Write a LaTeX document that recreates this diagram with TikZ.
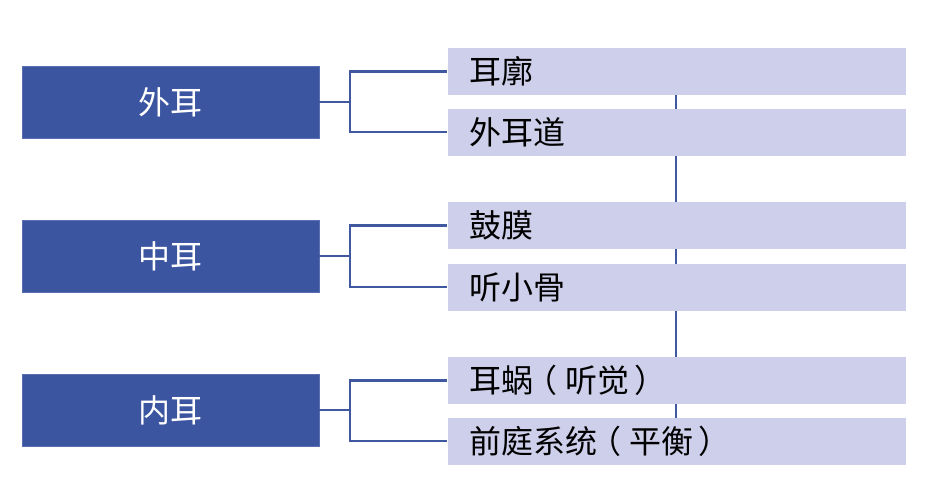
\documentclass[tikz,border=0pt]{standalone}
\usepackage{fontspec}
\newfontfamily\cjk{Noto Sans CJK SC}
\newcommand{\lpar}{\kern-0.25em（\kern0.25em}
\newcommand{\rpar}{\kern0.15em）}
\definecolor{earblue}{RGB}{59,85,160}
\definecolor{earlight}{RGB}{206,207,234}
\definecolor{earline}{RGB}{64,88,160}
\tikzset{every picture/.style={line width=0.75pt}}
\tikzset{
  partbox/.style={fill=earblue, draw={rgb, 255:red, 90; green, 110; blue, 178 }, line width=0.6pt, minimum width=222.75pt, minimum height=54pt, inner sep=0pt, text=white, font=\cjk\fontsize{24}{28}\selectfont},
  itembox/.style={fill=earlight, draw=none, anchor=west, minimum height=35.25pt, text width=310.5pt, inner xsep=16.5pt, inner ysep=0pt, align=left, text=black, font=\cjk\fontsize{24}{28}\selectfont},
  linkline/.style={draw=earline, line width=1.6pt}
}

\begin{document}
\begin{tikzpicture}[x=0.75pt,y=0.75pt,yscale=-1,xscale=1]
	\useasboundingbox (0,0) rectangle (929,486);

	%Straight Lines behind the items
	\coordinate (spinetop) at (676,71.5);
	\coordinate (spinebot) at (676,441);
	\draw [linkline] (spinetop) -- (spinebot) ;

	% Part Nodes
	\node [partbox] (outer) at (170.5,102) {外耳};
	\node [partbox] (middle) at (170.5,256) {中耳};
	\node [partbox] (inner) at (170.5,410) {内耳};

	% Item Nodes
	\node [itembox] (pinna) at (447,71.5) {耳廓};
	\node [itembox] (canal) at (447,132) {外耳道};
	\node [itembox] (drum) at (447,225.5) {鼓膜};
	\node [itembox] (ossicle) at (447,287) {听小骨};
	\node [itembox] (cochlea) at (447,380.5) {耳蜗\lpar 听觉\rpar};
	\node [itembox] (vestibule) at (447,441) {前庭系统\lpar 平衡\rpar};

	%Forks
	\coordinate (fork1) at (350,102);
	\coordinate (fork2) at (350,256);
	\coordinate (fork3) at (350,410);
	\draw [linkline] (outer.east) -- (fork1) ;
	\draw [linkline] (fork1) |- (pinna.west) ;
	\draw [linkline] (fork1) |- (canal.west) ;
	\draw [linkline] (middle.east) -- (fork2) ;
	\draw [linkline] (fork2) |- (drum.west) ;
	\draw [linkline] (fork2) |- (ossicle.west) ;
	\draw [linkline] (inner.east) -- (fork3) ;
	\draw [linkline] (fork3) |- (cochlea.west) ;
	\draw [linkline] (fork3) |- (vestibule.west) ;

\end{tikzpicture}
\end{document}
